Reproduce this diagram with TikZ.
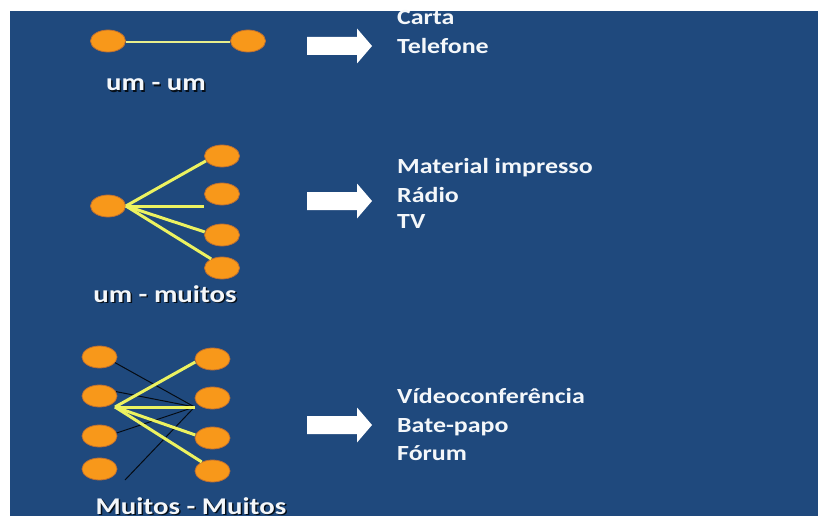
\documentclass[tikz,border=0pt]{standalone}
\usepackage{fontspec}
\newfontfamily\lab[FakeStretch=1.2]{Carlito}
\usetikzlibrary{shapes.geometric}
\definecolor{bg}{RGB}{31,73,125}
\definecolor{orng}{RGB}{248,152,26}
\definecolor{orngline}{RGB}{190,112,50}
\definecolor{ylw}{RGB}{236,242,96}
\definecolor{paleylw}{RGB}{232,238,140}
\definecolor{txt}{RGB}{244,247,250}
\begin{document}
\begin{tikzpicture}[x=1pt,y=-1pt,
  dot/.style={ellipse, draw=orngline, line width=0.8pt, fill=orng, minimum width=35pt, minimum height=22pt, inner sep=0pt},
  link/.style={draw=ylw, line width=3pt},
  thinlink/.style={draw=black!85!bg, line width=1pt},
  item/.style={anchor=base west, inner sep=0pt, text=txt, font=\lab\bfseries\fontsize{21.6}{26}\selectfont},
  caption/.style={anchor=base, inner sep=0pt, text=txt, font=\lab\bfseries\fontsize{24}{28}\selectfont},
  captionshadow/.style={caption, text=black!80!bg},
  bigarrow/.pic={\fill[white] (0,-9) -- (50,-9) -- (50,-17.5) -- (65,0) -- (50,17.5) -- (50,9) -- (0,9) -- cycle;}
]
\useasboundingbox (0,0) rectangle (818,516);
\fill[white] (0,0) rectangle (818,516);
\fill[bg] (10,11) rectangle (818,516);

% row 1: um - um
\node[dot] (a1) at (108,41) {};
\node[dot] (a2) at (248,41) {};
\draw[draw=paleylw, line width=2pt] ([yshift=-1pt]a1.east) -- ([yshift=-1pt]a2.west);
\node[captionshadow] (capAs) at (157.5,92.5) {um - um};
\node[caption] (capA) at (156,91) {um - um};
\pic at (307,46) {bigarrow};
\node[item] (t1) at (397,25) {Carta};
\node[item] (t2) at (397,54) {Telefone};

% row 2: um - muitos
\node[dot] (b0) at (108,206) {};
\node[dot] (b1) at (222,156) {};
\node[dot] (b2) at (222,194) {};
\node[dot] (b3) at (222,235) {};
\node[dot] (b4) at (222,268) {};
\draw[link] (b0.east) -- (b1.197);
\draw[link] (b0.east) -- (b0.east -| b2.west);
\draw[link] (b0.east) -- (b3.170);
\draw[link] (b0.east) -- (b4.140);
\node[captionshadow] (capBs) at (166.5,303.5) {um - muitos};
\node[caption] (capB) at (165,302) {um - muitos};
\pic at (307,201) {bigarrow};
\node[item] (t3) at (397,173) {Material impresso};
\node[item] (t4) at (397,202) {Rádio};
\node[item] (t5) at (397,228) {TV};

% row 3: Muitos - Muitos
\node[dot] (c1) at (99.5,357) {};
\node[dot] (c2) at (99.5,396) {};
\node[dot] (c3) at (99.5,436) {};
\node[dot] (c4) at (99.5,469) {};
\node[dot] (d1) at (212.5,359) {};
\node[dot] (d2) at (212.5,398) {};
\node[dot] (d3) at (212.5,438) {};
\node[dot] (d4) at (212.5,471) {};
\coordinate (h) at (115,407);
\coordinate (k) at (h -| d2.west);
\coordinate (free) at (125,480);
\draw[thinlink] (c1.340) -- (k);
\draw[thinlink] (c2.15) -- (k);
\draw[thinlink] (c3.10) -- (k);
\draw[thinlink] (free) -- (k);
\draw[link] (h) -- (d1.190);
\draw[link] (h) -- (k);
\draw[link] (h) -- (d3.170);
\draw[link] (h) -- (d4.140);
\node[captionshadow] (capCs) at (192.5,515.5) {Muitos - Muitos};
\node[caption] (capC) at (191,514) {Muitos - Muitos};
\pic at (307,425) {bigarrow};
\node[item] (t6) at (397,403) {Vídeoconferência};
\node[item] (t7) at (397,432) {Bate-papo};
\node[item] (t8) at (397,460) {Fórum};
\end{tikzpicture}
\end{document}
